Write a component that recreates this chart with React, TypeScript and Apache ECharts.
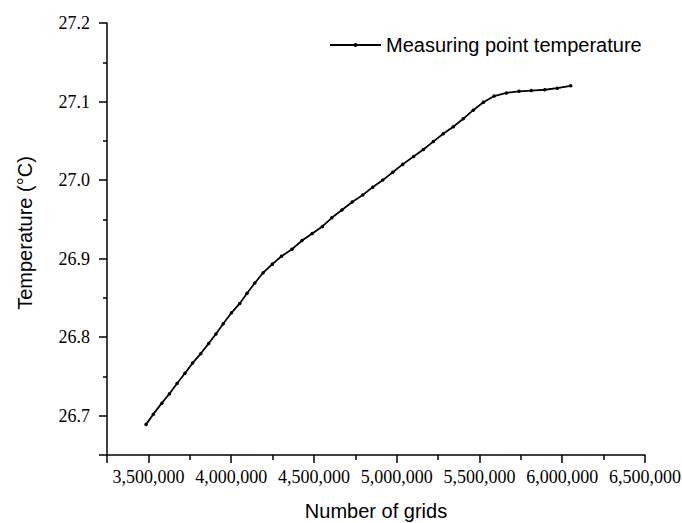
import React, { useEffect, useRef } from "react";
import * as echarts from "echarts";

const gridCounts: number[] = [
  3486000, 3530000, 3581000, 3627000, 3673000, 3721000, 3767000, 3816000, 3864000, 3908000,
  3952000, 4002000, 4052000, 4096000, 4143000, 4193000, 4249000, 4304000, 4367000, 4428000,
  4490000, 4551000, 4608000, 4669000, 4731000, 4795000, 4855000, 4916000, 4976000, 5036000,
  5102000, 5161000, 5221000, 5281000, 5342000, 5402000, 5462000, 5524000, 5589000, 5663000,
  5739000, 5813000, 5894000, 5970000, 6051000,
];
const temperatures: number[] = [
  26.689, 26.702, 26.716, 26.728, 26.741, 26.754, 26.767, 26.779, 26.792, 26.804,
  26.817, 26.831, 26.843, 26.856, 26.869, 26.882, 26.893, 26.903, 26.912, 26.923,
  26.932, 26.941, 26.952, 26.962, 26.972, 26.981, 26.991, 27.0, 27.01, 27.02,
  27.03, 27.039, 27.049, 27.059, 27.068, 27.078, 27.089, 27.099, 27.107, 27.111,
  27.113, 27.114, 27.115, 27.117, 27.12,
];
const xMajorStep = 500000;
const yMajorStep = 0.1;
const seriesName = "Measuring point temperature";
const xTitle = "Number of grids";
const yTitle = "Temperature (°C)";

export default function App() {
  const ref = useRef<HTMLDivElement>(null);
  useEffect(() => {
    if (!ref.current) return;
    const chart = echarts.init(ref.current, null, { renderer: "svg" });
    const ink = "#000";
    const serif = "Liberation Serif";
    const sans = "Liberation Sans";
    const isMajor = (v: number, step: number) => Math.abs(v / step - Math.round(v / step)) < 1e-6;
    chart.setOption({
      animation: false,
      backgroundColor: "#fff",
      grid: { left: 107, right: 37, top: 23, bottom: 68, outerBoundsMode: "none" },
      legend: {
        left: 324,
        top: 30,
        itemWidth: 51,
        itemHeight: 5,
        itemGap: 6,
        textStyle: { fontFamily: sans, fontSize: 20, color: ink },
        data: [seriesName],
      },
      xAxis: {
        type: "value",
        min: 3250000,
        max: 6500000,
        name: xTitle,
        nameLocation: "middle",
        nameGap: 46,
        nameTextStyle: { fontFamily: sans, fontSize: 20, color: ink },
        axisLine: { show: true, onZero: false, lineStyle: { color: ink, width: 1.5 } },
        axisTick: { show: true, length: 8, lineStyle: { color: ink, width: 1.5 } },
        minorTick: { show: true, splitNumber: 2, length: 5, lineStyle: { color: ink, width: 1.5 } },
        axisLabel: {
          show: true,
          margin: 13,
          fontFamily: serif,
          fontSize: 18,
          color: ink,
          formatter: (v: number) => (isMajor(v, xMajorStep) ? v.toLocaleString("en-US") : ""),
        },
        splitLine: { show: false },
      },
      yAxis: {
        type: "value",
        min: 26.65,
        max: 27.2,
        name: yTitle,
        nameLocation: "middle",
        nameGap: 72,
        nameTextStyle: { fontFamily: sans, fontSize: 20, color: ink, padding: [0, 0, 0, 12] },
        axisLine: { show: true, onZero: false, lineStyle: { color: ink, width: 1.5 } },
        axisTick: { show: true, length: 8, lineStyle: { color: ink, width: 1.5 } },
        minorTick: { show: true, splitNumber: 2, length: 4, lineStyle: { color: ink, width: 1.5 } },
        axisLabel: {
          show: true,
          margin: 17,
          fontFamily: serif,
          fontSize: 18,
          color: ink,
          formatter: (v: number) => (isMajor(v, yMajorStep) ? v.toFixed(1) : ""),
        },
        splitLine: { show: false },
      },
      series: [
        {
          name: seriesName,
          type: "line",
          data: gridCounts.map((x, i) => [x, temperatures[i]]),
          symbol: "circle",
          symbolSize: 3.5,
          showSymbol: true,
          itemStyle: { color: ink },
          lineStyle: { color: ink, width: 1.8 },
        },
      ],
    });
    return () => chart.dispose();
  }, []);
  return (
    <div
      ref={ref}
      style={{ position: "fixed", left: 0, top: 0, width: 682, height: 523, background: "#fff" }}
    />
  );
}
